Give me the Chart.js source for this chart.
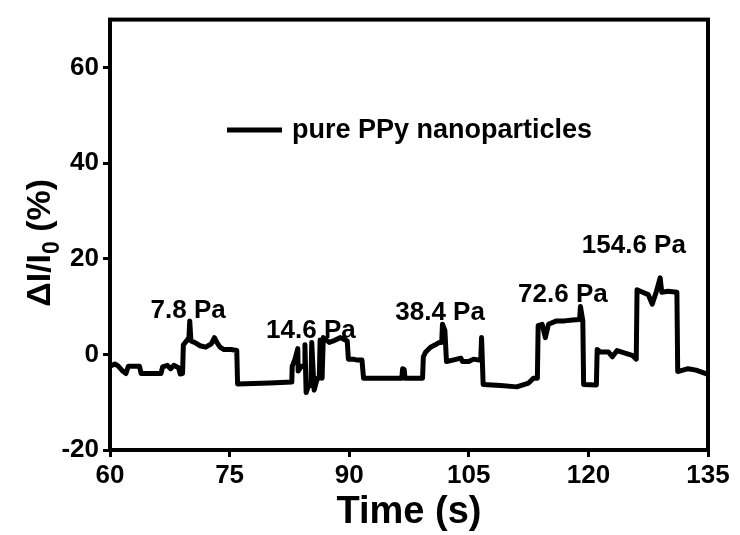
<!DOCTYPE html>
<html>
<head>
<meta charset="utf-8">
<script src="https://cdn.jsdelivr.net/npm/chart.js@4/dist/chart.umd.min.js"></script>
<style>
  html, body { margin: 0; padding: 0; background: #fff; }
  #wrap { width: 740px; height: 535px; position: relative; }
</style>
</head>
<body>
<div id="wrap"><canvas id="c"></canvas></div>
<script>
// time (s) and response (%)
const times = [
  60.0, 60.6, 61.0, 61.6, 62.0, 62.3, 63.7, 63.9, 66.4, 66.6, 67.2, 67.6, 68.0, 68.6, 68.8, 69.1,
  69.2, 69.6, 69.9, 70.0, 70.15, 70.6, 71.3, 72.0, 72.7, 73.1, 73.4, 73.8, 74.3, 75.2, 75.9, 76.0,
  80.0, 82.8, 82.85, 83.2, 83.55, 83.6, 84.0, 84.35, 84.45, 84.6, 84.9, 85.2, 85.3, 85.6, 86.0, 86.25,
  86.35, 86.6, 86.75, 87.5, 88.0, 88.9, 89.5, 89.75, 89.9, 90.5, 91.0, 91.6, 91.8, 95.0, 96.6, 96.7,
  96.9, 97.0, 99.2, 99.3, 99.6, 100.2, 100.8, 101.3, 101.6, 101.7, 102.0, 102.2, 103.0, 104.0, 104.2,
  105.0, 105.6, 106.3, 106.5, 106.6, 106.8, 109.0, 111.0, 112.5, 113.1, 113.6, 113.7, 114.2, 114.6,
  115.0, 116.0, 117.0, 118.0, 118.9, 119.0, 119.3, 119.4, 121.0, 121.1, 121.5, 122.5, 123.0, 123.6,
  124.5, 125.5, 126.0, 126.1, 126.8, 127.5, 128.0, 128.5, 129.0, 129.2, 130.0, 131.1, 131.2, 132.5,
  133.5, 135.0
];
const response = [
  -2.5, -2.0, -2.4, -3.5, -4.0, -2.5, -2.5, -4.0, -4.0, -2.6, -2.3, -3.0, -2.3, -2.8, -4.1, -4.0,
  2.0, 2.8, 3.5, 7.0, 2.8, 2.5, 1.8, 1.5, 2.2, 3.5, 2.5, 1.5, 1.0, 1.0, 0.8, -6.2,
  -6.0, -5.8, -2.5, -1.0, 1.2, -3.5, -2.5, -2.5, 2.0, -8.0, -6.5, -6.5, 2.5, -7.5, -5.0, -5.0,
  3.0, -5.0, 3.5, 2.5, 2.8, 3.5, 3.0, 2.8, -1.0, -1.0, -1.2, -1.2, -5.0, -5.0, -5.0, -3.0,
  -3.2, -5.0, -5.0, -0.5, 0.5, 1.5, 2.0, 2.5, 2.5, 6.3, 5.0, -1.5, -1.2, -0.8, -1.5,
  -1.5, -1.0, -1.2, -1.2, 3.5, -6.3, -6.5, -6.8, -6.0, -5.0, -5.0, 6.0, 6.3, 3.5,
  6.3, 7.0, 7.0, 7.2, 7.3, 10.0, 7.0, -6.3, -6.4, 1.0, 0.5, 0.5, -0.5, 0.8,
  0.3, -0.2, -1.0, 13.5, 13.0, 12.5, 10.5, 13.0, 16.0, 13.0, 13.2, 13.0, -3.6, -3.0,
  -3.3, -4.2
];

const xTicks = [60, 75, 90, 105, 120, 135];
const yTicks = [-20, 0, 20, 40, 60];

// pressure labels: text, time and level of the label's baseline
const noteText = ['7.8 Pa', '14.6 Pa', '38.4 Pa', '72.6 Pa', '154.6 Pa'];
const noteTime = [69.8, 85.2, 101.4, 116.8, 125.7];
const noteLevel = [7.6, 3.5, 7.2, 10.9, 21.2];

const seriesName = 'pure PPy nanoparticles';
// y title in three pieces so the 0 can sit as a subscript
const yTitle = ['ΔI/I', '0', ' (%)'];

const FONT = "'Liberation Sans', Arial, sans-serif";

const frame = {
  id: 'frame',
  afterDatasetsDraw(chart) {
    const { ctx, chartArea: a } = chart;
    ctx.save();
    ctx.strokeStyle = '#000';
    ctx.lineWidth = 4;
    ctx.strokeRect(a.left, a.top, a.right - a.left, a.bottom - a.top);
    ctx.restore();
  }
};

const notes = {
  id: 'notes',
  afterDatasetsDraw(chart) {
    const { ctx, chartArea: a, scales: { x, y } } = chart;
    ctx.save();
    ctx.fillStyle = '#000';
    ctx.font = 'bold 26px ' + FONT;
    ctx.textAlign = 'center';
    ctx.textBaseline = 'alphabetic';
    noteText.forEach((t, i) => {
      ctx.fillText(t, x.getPixelForValue(noteTime[i]), y.getPixelForValue(noteLevel[i]));
    });

    // legend
    ctx.lineWidth = 5;
    ctx.strokeStyle = '#000';
    ctx.beginPath();
    ctx.moveTo(227, 130);
    ctx.lineTo(282, 130);
    ctx.stroke();
    ctx.font = 'bold 27px ' + FONT;
    ctx.textAlign = 'left';
    ctx.textBaseline = 'middle';
    ctx.fillText(chart.data.datasets[0].label, 292, 131);

    // y title with subscript
    const big = 'bold 34px ' + FONT, small = 'bold 23px ' + FONT;
    ctx.font = big;   const w0 = ctx.measureText(yTitle[0]).width;
    const w2 = ctx.measureText(yTitle[2]).width;
    ctx.font = small; const w1 = ctx.measureText(yTitle[1]).width;
    const total = w0 + w1 + w2;
    ctx.translate(50, (a.top + a.bottom) / 2 + 8);
    ctx.rotate(-Math.PI / 2);
    ctx.textAlign = 'left';
    ctx.textBaseline = 'alphabetic';
    let cx = -total / 2;
    ctx.font = big;   ctx.fillText(yTitle[0], cx, 0); cx += w0;
    ctx.font = small; ctx.fillText(yTitle[1], cx, 9); cx += w1;
    ctx.font = big;   ctx.fillText(yTitle[2], cx, 0);
    ctx.restore();
  }
};

new Chart(document.getElementById('c'), {
  type: 'line',
  data: {
    datasets: [{
      label: seriesName,
      data: times.map((t, i) => ({ x: t, y: response[i] })),
      borderColor: '#000',
      borderWidth: 5,
      pointRadius: 0,
      tension: 0,
      borderJoinStyle: 'round',
      borderCapStyle: 'round'
    }]
  },
  options: {
    responsive: true, maintainAspectRatio: false, animation: false,
    layout: { padding: { left: 0, right: 32, top: 14, bottom: 0 } },
    plugins: { legend: { display: false }, tooltip: { enabled: false } },
    scales: {
      x: {
        type: 'linear', min: 60, max: 135,
        afterBuildTicks: s => { s.ticks = xTicks.map(v => ({ value: v })); },
        afterFit: s => { s.height = 85; },
        grid: { drawOnChartArea: false, color: '#000', tickLength: 7, tickWidth: 3 },
        border: { color: '#000', width: 4 },
        ticks: { color: '#000', padding: 3, font: { family: FONT, size: 26, weight: 'bold' } },
        title: { display: true, text: 'Time (s)', color: '#000', padding: { bottom: 0 }, font: { family: FONT, size: 38, weight: 'bold' } }
      },
      y: {
        min: -20, max: 70,
        afterBuildTicks: s => { s.ticks = yTicks.map(v => ({ value: v })); },
        afterFit: s => { s.width = 110; },
        grid: { drawOnChartArea: false, color: '#000', tickLength: 7, tickWidth: 3 },
        border: { color: '#000', width: 4 },
        ticks: { color: '#000', padding: 4, font: { family: FONT, size: 26, weight: 'bold' } },
        title: { display: false }
      }
    }
  },
  plugins: [frame, notes]
});
</script>
</body>
</html>
